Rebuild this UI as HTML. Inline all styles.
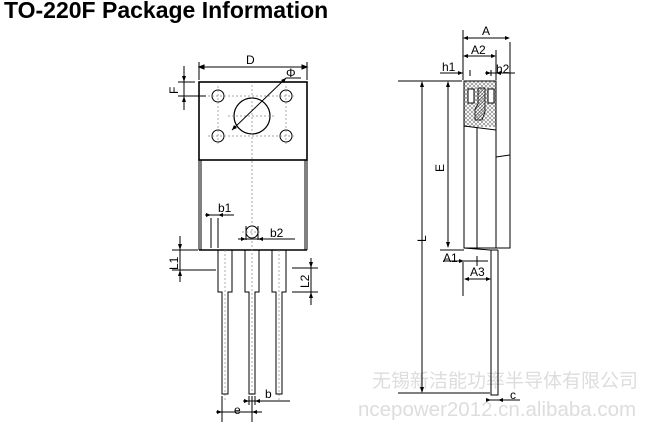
<!DOCTYPE html>
<html><head><meta charset="utf-8"><style>
body{margin:0;background:#fff;width:658px;height:432px;overflow:hidden}
svg{display:block}
text{font-family:"Liberation Sans",Arial,sans-serif}
</style></head><body>
<svg width="658" height="432" viewBox="0 0 658 432" xmlns="http://www.w3.org/2000/svg">
<defs>
<pattern id="x" width="4" height="4" patternUnits="userSpaceOnUse"><path d="M0 0L4 4M4 0L0 4" stroke="#777" stroke-width="0.6"/></pattern>
<pattern id="d" width="3" height="3" patternUnits="userSpaceOnUse"><path d="M0 3L3 0" stroke="#555" stroke-width="0.6"/></pattern>
</defs>
<text x="4" y="18" font-size="23" font-weight="bold">TO-220F Package Information</text>
<text x="372" y="387" font-size="19" fill="#ddd" font-family="'Liberation Sans','Noto Sans CJK SC',sans-serif">无锡新洁能功率半导体有限公司</text>
<text x="358" y="416" font-size="20.5" fill="#ddd">ncepower2012.cn.alibaba.com</text>
<g stroke="#000" fill="none" stroke-width="1">
<rect x="199" y="82" width="108" height="78" stroke-width="1.6"/>
<rect x="201" y="160" width="104" height="90"/>
<line x1="199" y1="250" x2="307" y2="250" stroke-width="1.6"/>
<line x1="199" y1="160" x2="199" y2="250"/><line x1="307" y1="160" x2="307" y2="250"/>
<circle cx="252" cy="116" r="18" stroke-width="1.2"/>
<circle cx="218" cy="96" r="6"/><circle cx="286" cy="96" r="6"/>
<circle cx="218" cy="136" r="6"/><circle cx="286" cy="136" r="6"/>
<circle cx="252" cy="232" r="6"/>
<g stroke="#888" stroke-dasharray="2,2" stroke-width="0.7">
<line x1="252" y1="85" x2="252" y2="400"/><line x1="225" y1="250" x2="225" y2="400"/><line x1="279" y1="250" x2="279" y2="400"/>
<line x1="218" y1="86" x2="218" y2="146"/><line x1="286" y1="86" x2="286" y2="146"/>
<line x1="208" y1="96" x2="296" y2="96"/><line x1="208" y1="136" x2="296" y2="136"/><line x1="228" y1="116" x2="276" y2="116"/>
<line x1="242" y1="232" x2="262" y2="232"/>
</g>
<path d="M218 250V292H222V394H228V292H232V250M245 250V292H249V394H255V292H259V250M272 250V292H276V394H282V292H286V250"/>
<line x1="199" y1="80" x2="199" y2="62"/><line x1="307" y1="80" x2="307" y2="62"/>
<line x1="203" y1="67" x2="303" y2="67"/><path d="M199 67l5-2v4zM307 67l-5-2v4z" fill="#000"/>
<line x1="178" y1="82" x2="195" y2="82"/><line x1="178" y1="96" x2="206" y2="96"/>
<line x1="184" y1="66" x2="184" y2="110"/>
<line x1="232" y1="130" x2="286" y2="78"/><line x1="286" y1="78" x2="301" y2="78"/>
<line x1="211" y1="218" x2="211" y2="248"/><line x1="218" y1="218" x2="218" y2="248"/>
<line x1="205" y1="215" x2="234" y2="215"/>
<line x1="246" y1="226" x2="246" y2="240"/><line x1="258" y1="226" x2="258" y2="240"/>
<line x1="238" y1="239" x2="295" y2="239"/>
<line x1="172" y1="250" x2="198" y2="250"/><line x1="172" y1="270" x2="216" y2="270"/><line x1="180" y1="236" x2="180" y2="282"/>
<line x1="292" y1="268" x2="318" y2="268"/><line x1="292" y1="292" x2="318" y2="292"/><line x1="311" y1="258" x2="311" y2="305"/>
<line x1="222" y1="396" x2="222" y2="422"/><line x1="252" y1="396" x2="252" y2="422"/>
<line x1="216" y1="412" x2="262" y2="412"/>
<line x1="249" y1="396" x2="249" y2="405"/><line x1="255" y1="396" x2="255" y2="405"/>
<line x1="243" y1="401" x2="290" y2="401"/>
<rect x="464" y="81" width="32" height="46" fill="url(#x)" stroke="none"/>
<path d="M464 81H496V248H464Z"/>
<path d="M464 126L496 130"/>
<line x1="477" y1="127" x2="477" y2="248"/>
<path d="M496 157L510 155M510 42V248H496M464 248L490 250H498"/>
<rect x="468" y="89" width="6" height="14" fill="#fff"/><rect x="488" y="89" width="6" height="14" fill="#fff"/>
<path d="M478 88H485V112L482 120H475V109L478 104Z" fill="url(#d)" stroke-width="0.8"/>
<path d="M491 250V395H498V250"/>
<line x1="463" y1="30" x2="463" y2="80"/>
<line x1="466" y1="38" x2="508" y2="38"/>
<line x1="466" y1="56" x2="494" y2="56"/><line x1="496" y1="50" x2="496" y2="80"/>
<line x1="440" y1="73" x2="463" y2="73"/><line x1="470" y1="70" x2="470" y2="76"/>
<line x1="485" y1="73" x2="515" y2="73"/><line x1="491" y1="70" x2="491" y2="76"/>
<line x1="398" y1="81" x2="462" y2="81"/>
<line x1="422" y1="83" x2="422" y2="392"/>
<line x1="448" y1="83" x2="448" y2="247"/>
<line x1="398" y1="393" x2="490" y2="393"/>
<line x1="440" y1="250" x2="464" y2="250"/>
<line x1="443" y1="261" x2="488" y2="261"/><line x1="477" y1="256" x2="477" y2="266"/>
<line x1="463" y1="262" x2="463" y2="296"/>
<line x1="466" y1="279" x2="489" y2="279"/>
<line x1="489" y1="400" x2="520" y2="400"/>
</g>
<g fill="#000">
<path d="M184 82l-2-6h4zM184 96l-2 6h4zM232 130l2-5 3 3zM286 78l-5 2 3 3z"/>
<path d="M211 215l-5-2v4zM218 215l5-2v4zM246 239l-5-2v4zM258 239l5-2v4z"/>
<path d="M180 250l-2-6h4zM180 270l-2 6h4zM311 268l-2-6h4zM311 292l-2 6h4z"/>
<path d="M222 412l-5-2v4zM252 412l5-2v4zM249 401l-5-2v4zM255 401l5-2v4z"/>
<path d="M463 38l5-2v4zM510 38l-5-2v4zM463 56l5-2v4zM496 56l-5-2v4zM463 73l-5-2v4zM496 73l5-2v4zM491 73l-5-2v4z"/>
<path d="M422 81l-2 6h4zM422 393l-2-6h4zM448 81l-2 6h4zM448 248l-2-6h4z"/>
<path d="M464 261l-5-2v4zM464 279l5-2v4zM491 279l-5-2v4zM491 400l-5-2v4zM498 400l5-2v4z"/>
</g>
<g font-size="12">
<text x="246" y="64">D</text><text x="286" y="77">Φ</text>
<text x="178" y="94" transform="rotate(-90 178 94)">F</text>
<text x="218" y="212">b1</text><text x="270" y="237">b2</text>
<text x="178" y="270" transform="rotate(-90 178 270)">L1</text>
<text x="309" y="288" transform="rotate(-90 309 288)">L2</text>
<text x="234" y="414">e</text><text x="265" y="398">b</text>
<text x="482" y="35">A</text><text x="471" y="54">A2</text>
<text x="442" y="71">h1</text><text x="496" y="73">h2</text>
<text x="426" y="242" transform="rotate(-90 426 242)">L</text>
<text x="444" y="172" transform="rotate(-90 444 172)">E</text>
<text x="443" y="262">A1</text><text x="470" y="276">A3</text>
<text x="510" y="399">c</text>
</g>
</svg>
</body></html>
